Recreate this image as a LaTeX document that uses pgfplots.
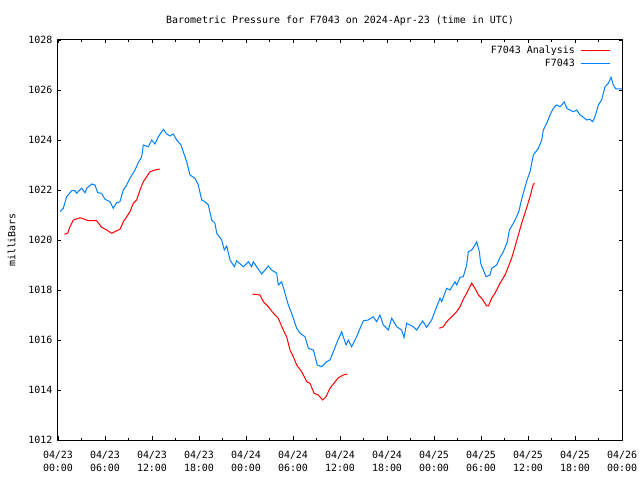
\documentclass[border=0pt]{standalone}
\usepackage{pgfplots}
\pgfplotsset{compat=1.18}
\usepackage{fontspec}
\setmainfont{DejaVu Sans Mono}
\definecolor{gpred}{RGB}{255,0,0}
\definecolor{gpblue}{RGB}{0,128,255}
\begin{document}
\begin{tikzpicture}[x=1bp,y=1bp]
\useasboundingbox (-58bp,-40bp) rectangle (582bp,440bp);
\begin{axis}[
  at={(0,0)}, anchor=origin,
  scale only axis, width=564bp, height=400bp,
  xmin=0, xmax=72, ymin=1012, ymax=1028,
  xtick={0,6,...,72},
  minor x tick num=1,
  ytick={1012,1014,...,1028},
  xticklabels={{04/23\\00:00},{04/23\\06:00},{04/23\\12:00},{04/23\\18:00},{04/24\\00:00},{04/24\\06:00},{04/24\\12:00},{04/24\\18:00},{04/25\\00:00},{04/25\\06:00},{04/25\\12:00},{04/25\\18:00},{04/26\\00:00}},
  xticklabel style={align=center, yshift=-8bp, font={\fontsize{10}{12.5}\selectfont}},
  yticklabel style={xshift=-2bp, font={\fontsize{10}{12}\selectfont}},
  /pgf/number format/assume math mode=true,
  /pgf/number format/1000 sep={},
  major tick length=3.5bp, minor tick length=2bp,
  tick style={black, line width=0.8bp},
  axis line style={black, line width=1bp},
  title={Barometric Pressure for F7043 on 2024-Apr-23 (time in UTC)},
  title style={at={(0.5,1)}, anchor=south, yshift=5bp, font={\fontsize{10}{12}\selectfont}},
  ylabel={milliBars},
  ylabel style={at={(axis description cs:0,0.5)}, anchor=center, yshift=46.3bp, font={\fontsize{10}{12}\selectfont}},
  legend plot pos=right,
  legend cell align=right,
  legend image code/.code={\path (0bp,0bp); \draw[#1] (4bp,0bp) -- (33bp,0bp);},
  legend style={at={(1,1)}, anchor=north east, xshift=-10bp, yshift=-3bp, draw=none, fill=none, inner sep=1bp, row sep=0bp, font={\fontsize{10}{12}\selectfont}},
  unbounded coords=jump,
]
\addplot[gpred, line width=1bp] coordinates {
(0.81,1020.23) (1.23,1020.27) (1.53,1020.53) (1.96,1020.8) (2.81,1020.89) (3.23,1020.85) (3.87,1020.77) (4.94,1020.77)
(5.57,1020.51) (6.21,1020.4) (6.86,1020.27) (7.49,1020.37) (7.92,1020.43) (8.34,1020.73) (8.77,1020.93) (9.19,1021.13)
(9.61,1021.47) (10.04,1021.6) (10.47,1022.0) (10.89,1022.33) (11.32,1022.53) (11.74,1022.73) (12.38,1022.8) (13.02,1022.84)
(18,nan)
(24.81,1017.84) (25.79,1017.8) (26.21,1017.53) (26.85,1017.33) (27.49,1017.07) (28.12,1016.87) (28.76,1016.4) (29.19,1016.13)
(29.62,1015.6) (30.04,1015.33) (30.47,1015.0) (31.11,1014.73) (31.75,1014.33) (32.17,1014.27) (32.68,1013.87) (33.23,1013.8)
(33.79,1013.6) (34.21,1013.73) (34.72,1014.07) (35.28,1014.29) (35.79,1014.49) (36.43,1014.6) (36.94,1014.64)
(42,nan)
(48.68,1016.47) (49.19,1016.53) (49.62,1016.73) (50.26,1016.93) (50.89,1017.13) (51.32,1017.33) (51.74,1017.63) (52.17,1017.87)
(52.81,1018.27) (53.23,1018.07) (53.66,1017.8) (54.09,1017.67) (54.72,1017.36) (54.95,1017.36) (55.36,1017.67) (55.79,1017.87)
(56.43,1018.27) (57.06,1018.6) (57.49,1018.93) (57.91,1019.27) (58.34,1019.73) (58.77,1020.2) (59.19,1020.67) (59.74,1021.2)
(60.26,1021.73) (60.68,1022.24) (60.89,1022.24)
};
\addlegendentry{F7043 Analysis}
\addplot[gpblue, line width=1bp] coordinates {
(0.26,1021.13) (0.68,1021.27) (1.1,1021.73) (1.74,1021.97) (2.17,1021.97) (2.38,1021.87) (3.02,1022.07) (3.45,1021.89)
(3.66,1022.07) (4.3,1022.24) (4.72,1022.2) (5.07,1021.89) (5.57,1021.87) (6.0,1021.63) (6.64,1021.53) (7.06,1021.27)
(7.49,1021.49) (7.9,1021.53) (8.34,1022.0) (8.77,1022.2) (9.19,1022.47) (9.83,1022.8) (10.25,1023.09) (10.68,1023.33)
(10.89,1023.8) (11.53,1023.73) (11.96,1024.0) (12.38,1023.84) (12.81,1024.13) (13.45,1024.43) (13.87,1024.24) (14.3,1024.16)
(14.72,1024.24) (15.15,1024.0) (15.7,1023.8) (15.99,1023.53) (16.43,1023.13) (16.85,1022.6) (17.49,1022.47) (17.91,1022.2)
(18.34,1021.6) (18.77,1021.53) (19.19,1021.4) (19.62,1020.8) (20.04,1020.67) (20.26,1020.27) (20.9,1020.0) (21.23,1019.6)
(21.54,1019.76) (21.96,1019.2) (22.51,1018.93) (22.81,1019.17) (23.66,1018.93) (24.3,1019.13) (24.72,1018.93) (24.94,1019.13)
(25.36,1018.93) (26.0,1018.64) (26.85,1018.96) (27.28,1018.8) (27.92,1018.67) (28.12,1018.2) (28.55,1018.33) (28.98,1017.87)
(29.4,1017.4) (29.83,1017.07) (30.47,1016.47) (30.9,1016.27) (31.53,1016.13) (31.96,1015.67) (32.6,1015.6) (33.1,1015.0)
(33.66,1014.93) (34.3,1015.13) (34.72,1015.2) (35.15,1015.53) (35.57,1015.87) (36.21,1016.33) (36.77,1015.8) (37.06,1016.0)
(37.49,1015.73) (38.13,1016.13) (38.47,1016.4) (38.98,1016.77) (39.6,1016.8) (40.25,1016.93) (40.68,1016.73) (41.1,1017.0)
(41.53,1016.6) (42.17,1016.4) (42.6,1016.87) (43.24,1016.53) (43.87,1016.4) (44.17,1016.1) (44.51,1016.67) (45.36,1016.53)
(45.79,1016.4) (46.55,1016.76) (47.06,1016.51) (47.7,1016.8) (48.34,1017.33) (48.77,1017.67) (48.98,1017.53) (49.62,1018.07)
(50.04,1018.0) (50.68,1018.33) (50.9,1018.2) (51.32,1018.51) (51.74,1018.53) (52.17,1019.0) (52.38,1019.53) (52.81,1019.6)
(53.23,1019.8) (53.45,1019.93) (53.79,1019.53) (53.96,1019.07) (54.3,1018.8) (54.64,1018.53) (55.15,1018.6) (55.36,1018.87)
(56.0,1019.0) (56.43,1019.31) (56.85,1019.53) (57.36,1019.93) (57.62,1020.4) (58.13,1020.67) (58.55,1020.93) (58.89,1021.2)
(59.06,1021.47) (59.4,1021.87) (59.83,1022.35) (60.26,1022.73) (60.68,1023.4) (61.32,1023.67) (61.75,1024.0) (61.96,1024.4)
(62.47,1024.73) (62.81,1025.0) (63.23,1025.27) (63.66,1025.4) (64.09,1025.33) (64.64,1025.52) (64.94,1025.27) (65.36,1025.2)
(65.79,1025.13) (66.21,1025.2) (66.64,1025.0) (67.06,1024.91) (67.49,1024.8) (67.91,1024.83) (68.26,1024.73) (68.55,1024.93)
(68.98,1025.4) (69.4,1025.6) (69.83,1026.13) (70.26,1026.27) (70.6,1026.51) (70.89,1026.2) (71.23,1026.04) (72.0,1026.04)
};
\addlegendentry{F7043}
\end{axis}
\end{tikzpicture}
\end{document}
